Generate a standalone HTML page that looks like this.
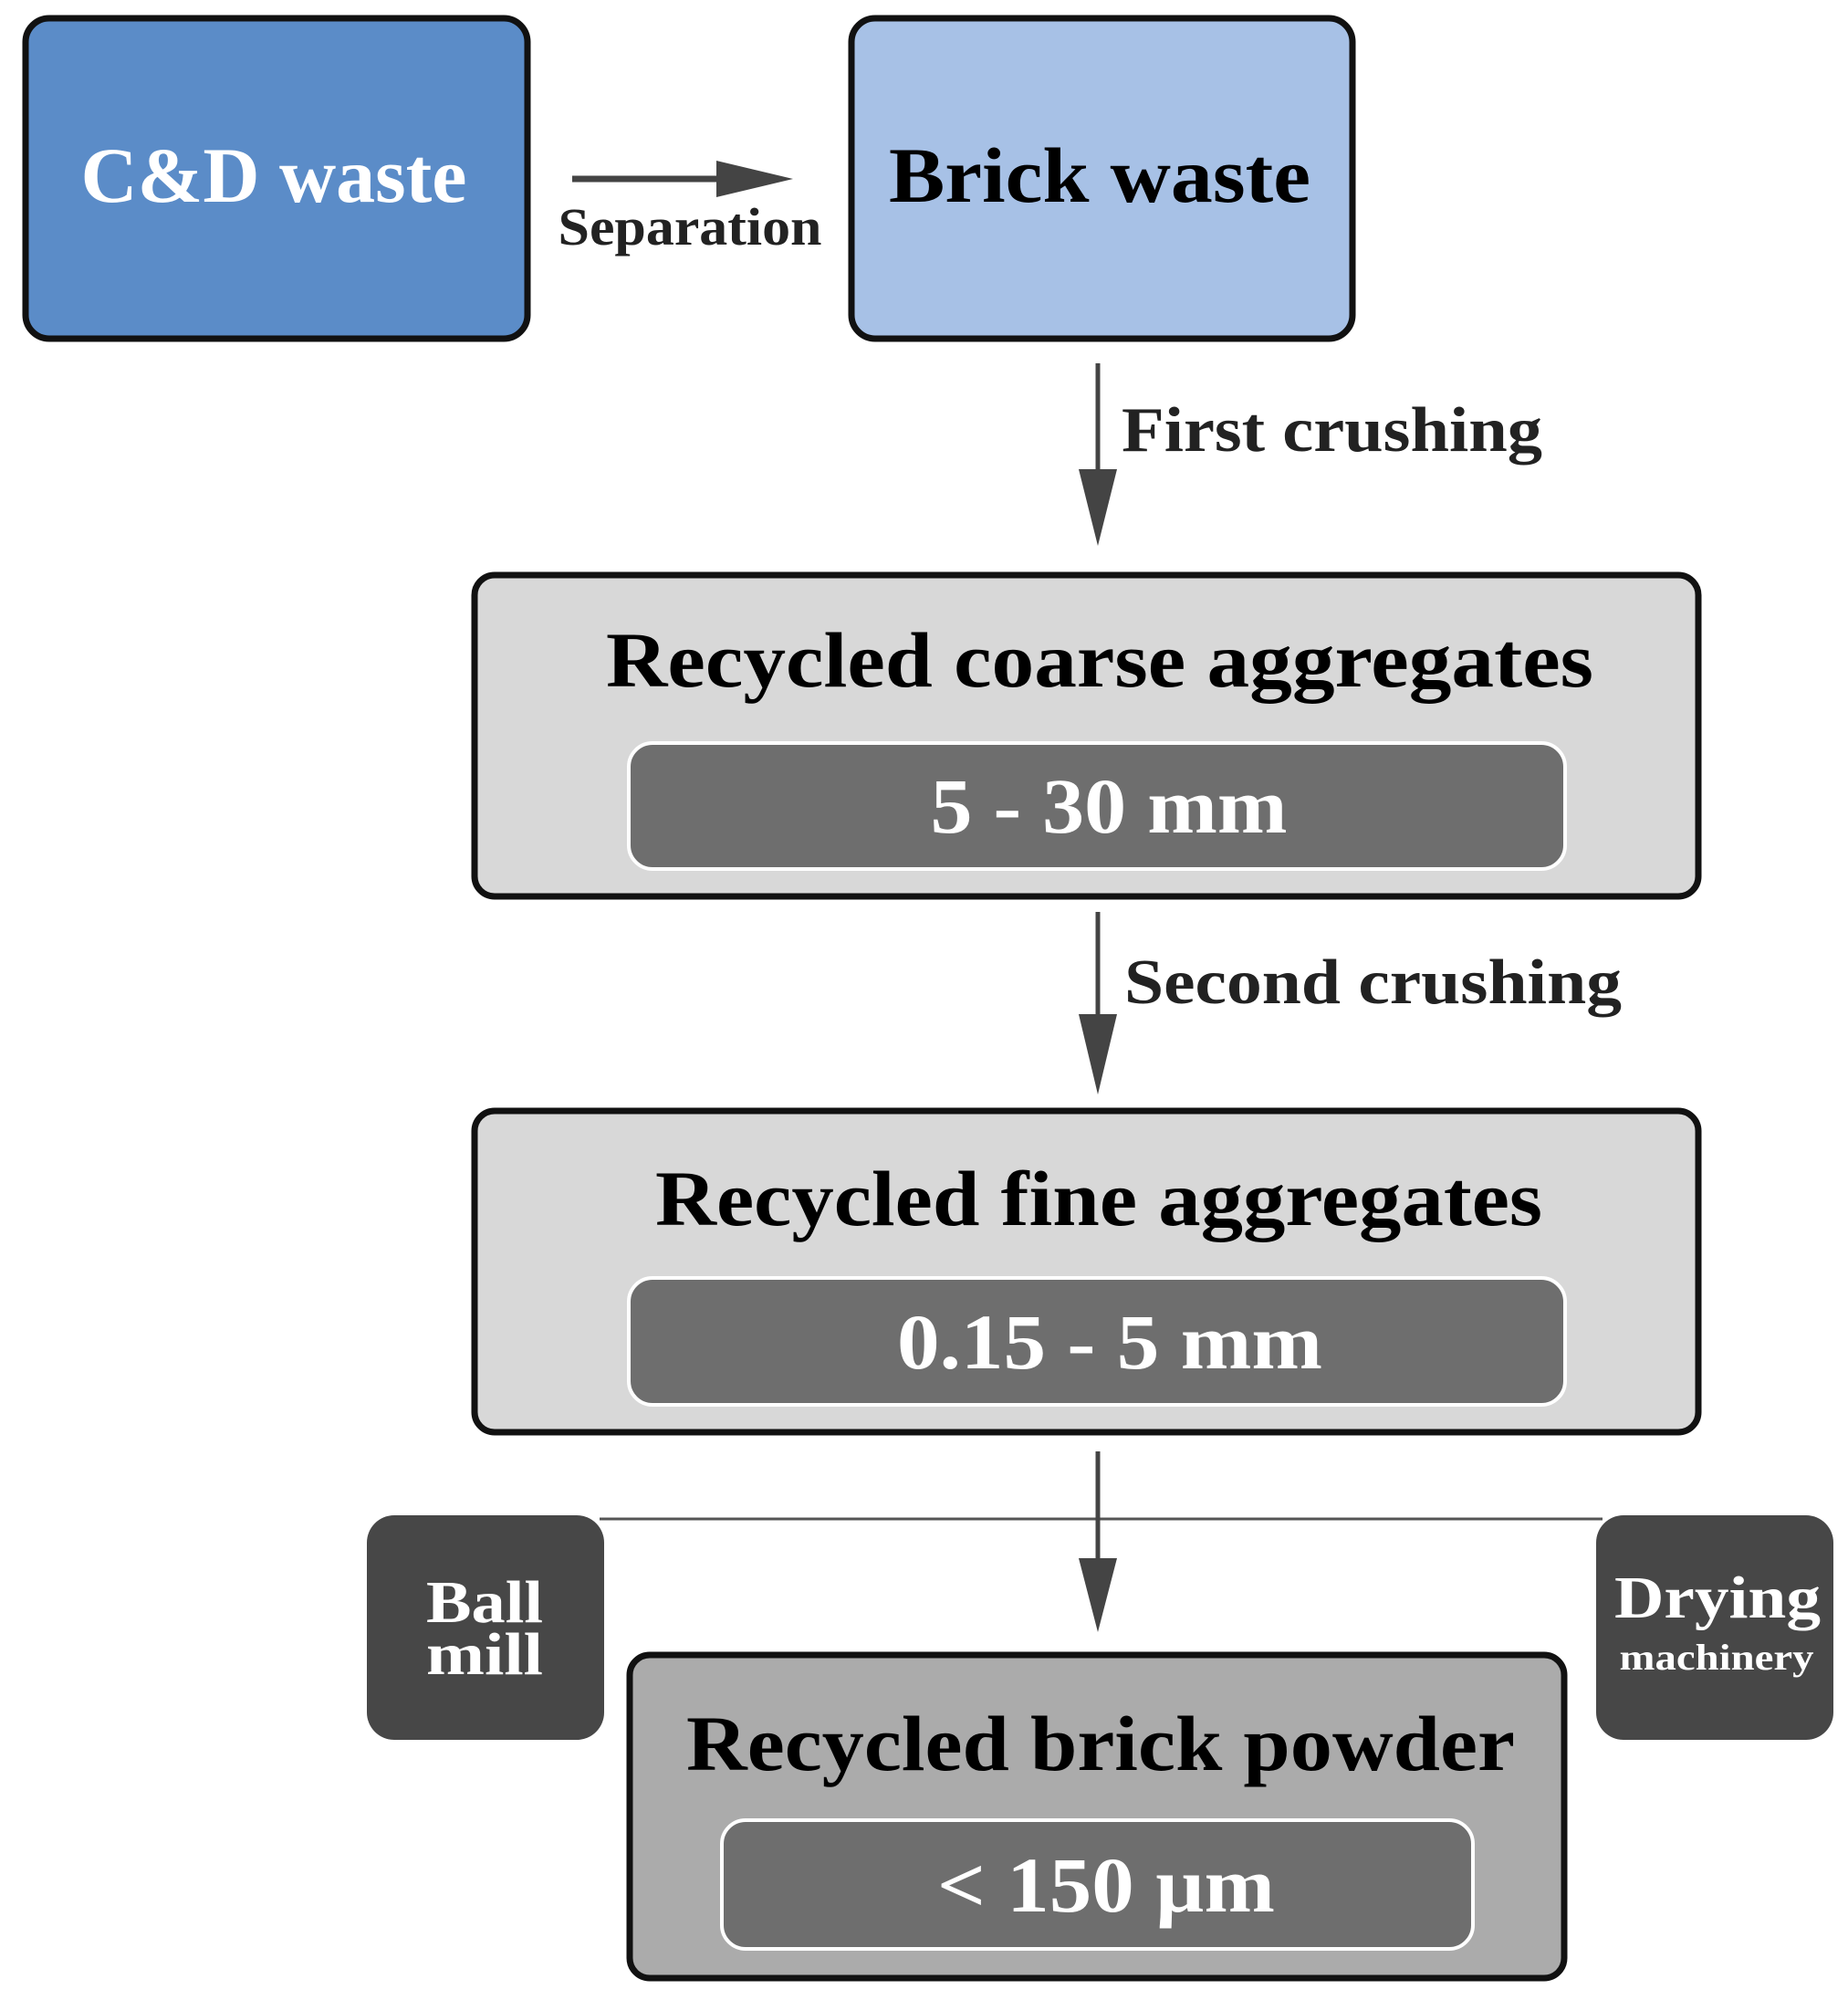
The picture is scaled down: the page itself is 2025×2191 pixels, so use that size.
<!DOCTYPE html>
<html><head><meta charset="utf-8"><style>html,body{margin:0;padding:0;background:#fff}svg{display:block}</style></head>
<body>
<svg width="2025" height="2191" viewBox="0 0 2025 2191" xmlns="http://www.w3.org/2000/svg" font-family="Liberation Serif, serif" font-weight="bold">
<!-- top boxes -->
<rect x="28" y="20" width="550" height="351" rx="26" fill="#5b8cc8" stroke="#111" stroke-width="7"/>
<rect x="933" y="20" width="549" height="351" rx="26" fill="#a7c1e6" stroke="#111" stroke-width="7"/>
<text x="300" y="221" font-size="86" fill="#fff" text-anchor="middle" textLength="423" lengthAdjust="spacingAndGlyphs">C&amp;D waste</text>
<text x="1205" y="221" font-size="86" fill="#000" text-anchor="middle" textLength="462" lengthAdjust="spacingAndGlyphs">Brick waste</text>
<!-- separation arrow -->
<line x1="627" y1="196" x2="800" y2="196" stroke="#444" stroke-width="7"/>
<polygon points="785,176 869,196 785,216" fill="#444"/>
<text x="756" y="268" font-size="58" fill="#222" text-anchor="middle" textLength="289" lengthAdjust="spacingAndGlyphs">Separation</text>
<!-- arrow 1 -->
<line x1="1203" y1="398" x2="1203" y2="530" stroke="#444" stroke-width="5"/>
<polygon points="1182,514 1224,514 1203,598" fill="#444"/>
<text x="1229" y="494" font-size="70" fill="#222" textLength="461" lengthAdjust="spacingAndGlyphs">First crushing</text>
<!-- coarse box -->
<rect x="520" y="630" width="1341" height="352" rx="22" fill="#d8d8d8" stroke="#111" stroke-width="7"/>
<text x="1205" y="752" font-size="86" fill="#000" text-anchor="middle" textLength="1082" lengthAdjust="spacingAndGlyphs">Recycled coarse aggregates</text>
<rect x="689" y="814" width="1026" height="138" rx="26" fill="#6e6e6e" stroke="#fff" stroke-width="4"/>
<text x="1215" y="912" font-size="86" fill="#fff" text-anchor="middle" textLength="391" lengthAdjust="spacingAndGlyphs">5 - 30 mm</text>
<!-- arrow 2 -->
<line x1="1203" y1="999" x2="1203" y2="1125" stroke="#444" stroke-width="5"/>
<polygon points="1182,1111 1224,1111 1203,1199" fill="#444"/>
<text x="1232" y="1099" font-size="70" fill="#222" textLength="545" lengthAdjust="spacingAndGlyphs">Second crushing</text>
<!-- fine box -->
<rect x="520" y="1217" width="1341" height="352" rx="22" fill="#d8d8d8" stroke="#111" stroke-width="7"/>
<text x="1204" y="1342" font-size="86" fill="#000" text-anchor="middle" textLength="972" lengthAdjust="spacingAndGlyphs">Recycled fine aggregates</text>
<rect x="689" y="1400" width="1026" height="139" rx="26" fill="#6e6e6e" stroke="#fff" stroke-width="4"/>
<text x="1216" y="1499" font-size="86" fill="#fff" text-anchor="middle" textLength="466" lengthAdjust="spacingAndGlyphs">0.15 - 5 mm</text>
<!-- arrow 3 -->
<line x1="657" y1="1664" x2="1756" y2="1664" stroke="#555" stroke-width="3"/>
<line x1="1203" y1="1590" x2="1203" y2="1720" stroke="#444" stroke-width="5"/>
<polygon points="1182,1707 1224,1707 1203,1788" fill="#444"/>
<!-- side boxes -->
<rect x="402" y="1660" width="260" height="246" rx="30" fill="#474747"/>
<text x="531" y="1777" font-size="66" fill="#fff" text-anchor="middle" textLength="128" lengthAdjust="spacingAndGlyphs">Ball</text>
<text x="531" y="1834" font-size="66" fill="#fff" text-anchor="middle" textLength="128" lengthAdjust="spacingAndGlyphs">mill</text>
<rect x="1749" y="1660" width="260" height="246" rx="30" fill="#474747"/>
<text x="1882" y="1772" font-size="66" fill="#fff" text-anchor="middle" textLength="226" lengthAdjust="spacingAndGlyphs">Drying</text>
<text x="1881" y="1829" font-size="40" fill="#fff" text-anchor="middle" textLength="213" lengthAdjust="spacingAndGlyphs">machinery</text>
<!-- powder box -->
<rect x="690" y="1813" width="1024" height="354" rx="22" fill="#ababab" stroke="#111" stroke-width="7"/>
<text x="1206" y="1939" font-size="86" fill="#000" text-anchor="middle" textLength="908" lengthAdjust="spacingAndGlyphs">Recycled brick powder</text>
<rect x="791" y="1994" width="823" height="141" rx="26" fill="#6e6e6e" stroke="#fff" stroke-width="4"/>
<text x="1212" y="2094" font-size="86" fill="#fff" text-anchor="middle" textLength="370" lengthAdjust="spacingAndGlyphs">&lt; 150 µm</text>
</svg>
</body></html>
